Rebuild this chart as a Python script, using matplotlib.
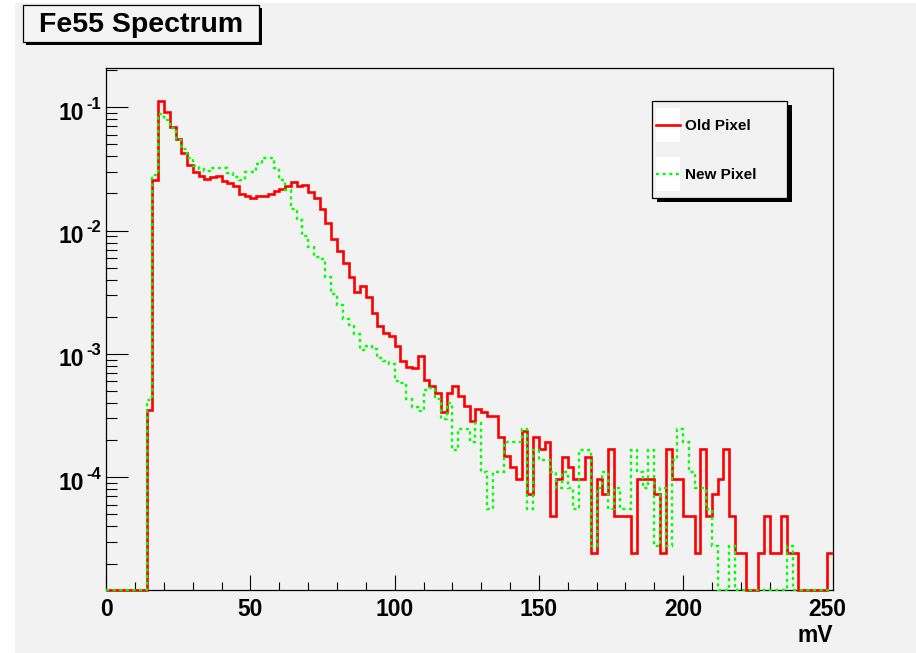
import numpy as np
import matplotlib
matplotlib.use("Agg")
import matplotlib.pyplot as plt
from matplotlib.patches import Rectangle
from matplotlib.lines import Line2D
from matplotlib.ticker import FixedLocator, LogLocator, FuncFormatter, NullFormatter

plt.rcParams["font.family"] = ["Liberation Sans", "DejaVu Sans"]
plt.rcParams["font.weight"] = "bold"

# ---- histogram data: normalised spectra, 2 mV bins from 0 mV ----
bin_width = 2.0
x_max = 252.0
x_ticks = [0, 50, 100, 150, 200, 250]
y_decades = [-4, -3, -2, -1]

old_pixel = [
    0, 0, 0, 0, 0, 0, 0, 3.5e-4, 0.0259, 0.113,
    0.0916, 0.0689, 0.0553, 0.0423, 0.0339, 0.0299, 0.0279, 0.0262, 0.0271, 0.0276,
    0.0254, 0.0244, 0.0229, 0.0198, 0.0190, 0.0184, 0.0192, 0.0190, 0.0198, 0.0211,
    0.0219, 0.0232, 0.0247, 0.0228, 0.0233, 0.0205, 0.0183, 0.0149, 0.0116, 0.00857,
    0.00689, 0.00544, 0.00424, 0.00315, 0.00356, 0.00292, 0.00214, 0.00170, 0.00147, 0.00141,
    0.00116, 8.79e-4, 7.91e-4, 7.76e-4, 9.71e-4, 6.17e-4, 5.45e-4, 4.81e-4, 3.37e-4, 4.81e-4,
    5.45e-4, 4.52e-4, 3.81e-4, 2.88e-4, 3.56e-4, 3.37e-4, 3.15e-4, 3.15e-4, 2.14e-4, 1.48e-4,
    1.21e-4, 9.7e-5, 2.39e-4, 7.3e-5, 2.14e-4, 1.69e-4, 1.93e-4, 4.9e-5, 9.7e-5, 1.46e-4,
    1.21e-4, 9.7e-5, 9.7e-5, 1.46e-4, 2.43e-5, 9.7e-5, 7.3e-5, 1.70e-4, 4.9e-5, 4.9e-5,
    4.9e-5, 2.43e-5, 9.7e-5, 9.7e-5, 9.7e-5, 7.3e-5, 2.43e-5, 1.70e-4, 9.7e-5, 9.7e-5,
    4.9e-5, 4.9e-5, 2.43e-5, 1.70e-4, 4.9e-5, 7.3e-5, 9.7e-5, 1.70e-4, 4.9e-5, 2.43e-5,
    2.43e-5, 0, 0, 2.43e-5, 4.9e-5, 2.43e-5, 2.43e-5, 4.9e-5, 2.43e-5, 2.43e-5,
    0, 0, 0, 0, 0, 2.43e-5,
]

new_pixel = [
    0, 0, 0, 0, 0, 0, 0, 4.2e-4, 0.0282, 0.0882,
    0.0789, 0.0676, 0.0543, 0.0457, 0.0386, 0.0334, 0.0315, 0.0306, 0.0324, 0.0321,
    0.0321, 0.0295, 0.0274, 0.0258, 0.0297, 0.0301, 0.0345, 0.0386, 0.0386, 0.0321,
    0.0258, 0.0214, 0.0150, 0.0122, 0.00906, 0.00733, 0.00615, 0.00586, 0.00419, 0.00307,
    0.00250, 0.00191, 0.00172, 0.00146, 0.00107, 0.00115, 0.00109, 9.24e-4, 8.79e-4, 8.26e-4,
    6.08e-4, 5.86e-4, 4.30e-4, 3.75e-4, 3.48e-4, 5.12e-4, 5.28e-4, 4.30e-4, 2.97e-4, 3.99e-4,
    1.65e-4, 2.48e-4, 2.48e-4, 1.93e-4, 2.75e-4, 1.10e-4, 5.5e-5, 1.10e-4, 1.10e-4, 1.93e-4,
    1.93e-4, 1.93e-4, 2.48e-4, 5.5e-5, 1.65e-4, 1.38e-4, 1.38e-4, 1.10e-4, 8.25e-5, 1.10e-4,
    8.25e-5, 5.5e-5, 1.65e-4, 1.65e-4, 2.75e-5, 8.25e-5, 1.10e-4, 5.5e-5, 8.25e-5, 5.5e-5,
    5.5e-5, 1.65e-4, 1.10e-4, 8.25e-5, 1.65e-4, 2.75e-5, 8.25e-5, 2.75e-5, 1.38e-4, 2.48e-4,
    1.93e-4, 1.10e-4, 8.25e-5, 8.25e-5, 5.5e-5, 2.75e-5, 0, 0, 2.75e-5, 0,
    0, 0, 0, 0, 0, 0, 0, 0, 2.75e-5, 0,
    0, 0, 0, 0, 0, 0,
]

y_floor = 1.22e-5
y_ceiling = 0.207

# ---- canvas geometry (pixels) ----
W, H = 916, 653
CANVAS = "#f2f2f2"


def fx(px):
    return px / W


def fy(py):
    return 1.0 - py / H


fig = plt.figure(figsize=(W / 100, H / 100), dpi=100, facecolor="white")
fig.patches.append(Rectangle((fx(15), 0), 1 - fx(15), fy(3), transform=fig.transFigure,
                             facecolor=CANVAS, edgecolor="none", zorder=-10))

ax_l, ax_r, ax_t, ax_b = 106.3, 833.0, 68.3, 590.0
ax = fig.add_axes([fx(ax_l), fy(ax_b), fx(ax_r - ax_l), (ax_b - ax_t) / H])
ax.set_facecolor(CANVAS)
ax.set_yscale("log")
ax.set_xlim(0, x_max)
ax.set_ylim(y_floor, y_ceiling)

edges = np.arange(len(old_pixel) + 1) * bin_width


def on_floor(values):
    v = np.asarray(values, dtype=float)
    return np.where(v > 0, v, y_floor)


ax.stairs(on_floor(old_pixel), edges, baseline=None, color="#ff0000", lw=1.9,
          clip_on=False, zorder=3)
ax.stairs(on_floor(new_pixel), edges, baseline=None, color="#00ff00", lw=1.7,
          ls=(0, (1.3, 1.5)), clip_on=False, zorder=4)

for s in ax.spines.values():
    s.set_linewidth(0.9)
    s.set_color("black")

# x axis ticks
ax.xaxis.set_major_locator(FixedLocator(x_ticks))
ax.xaxis.set_minor_locator(FixedLocator(np.arange(0, x_max + 1, 10)))
ax.tick_params(axis="x", which="major", direction="in", length=10.8, width=0.8,
               labelsize=16.5, pad=6, top=False)
ax.tick_params(axis="x", which="minor", direction="in", length=5.5, width=0.8, top=False)
ax.xaxis.set_major_formatter(FuncFormatter(lambda v, _: "%d" % v))
for lab in ax.get_xticklabels():
    lab.set_fontweight("bold")

# y axis ticks; decade labels written as "10" with a raised exponent
ax.yaxis.set_major_locator(LogLocator(base=10, numticks=20))
ax.yaxis.set_minor_locator(LogLocator(base=10, subs=np.arange(2, 10), numticks=20))
ax.yaxis.set_major_formatter(NullFormatter())
ax.yaxis.set_minor_formatter(NullFormatter())
ax.tick_params(axis="y", which="major", direction="in", length=15.6, width=0.8, right=False)
ax.tick_params(axis="y", which="minor", direction="in", length=8.1, width=0.8, right=False)

y_lo, y_hi = np.log10(y_floor), np.log10(y_ceiling)
for d in y_decades:
    py = ax_b - (d - y_lo) / (y_hi - y_lo) * (ax_b - ax_t)
    fig.text(fx(84), fy(py + 6), "10", ha="right", va="center", fontsize=16.5,
             fontweight="bold")
    fig.text(fx(101), fy(py - 3), "%d" % d, ha="right", va="center", fontsize=12,
             fontweight="bold")

# axis title
fig.text(fx(ax_r), fy(642), "mV", ha="right", va="baseline", fontsize=16.5,
         fontweight="bold")

# title box with shadow
tb_l, tb_t, tb_r, tb_b = 23, 5, 259, 42
fig.patches.append(Rectangle((fx(tb_l + 2.5), fy(tb_b + 2.5)), fx(tb_r - tb_l), (tb_b - tb_t) / H,
                             transform=fig.transFigure, facecolor="black",
                             edgecolor="none", zorder=1))
fig.patches.append(Rectangle((fx(tb_l), fy(tb_b)), fx(tb_r - tb_l), (tb_b - tb_t) / H,
                             transform=fig.transFigure, facecolor="#f4f4f4",
                             edgecolor="black", lw=0.9, zorder=2))
fig.text(fx(141.5), fy(25), "Fe55 Spectrum", ha="center", va="center", fontsize=20.5,
         fontweight="bold", zorder=3)

# legend box with shadow
lg_l, lg_t, lg_r, lg_b = 652, 101, 787, 198
fig.patches.append(Rectangle((fx(lg_l + 4.5), fy(lg_b + 4)), fx(lg_r - lg_l), (lg_b - lg_t) / H,
                             transform=fig.transFigure, facecolor="black",
                             edgecolor="none", zorder=5))
fig.patches.append(Rectangle((fx(lg_l), fy(lg_b)), fx(lg_r - lg_l), (lg_b - lg_t) / H,
                             transform=fig.transFigure, facecolor=CANVAS,
                             edgecolor="black", lw=0.9, zorder=6))
legend_rows = [("Old Pixel", "#ff0000", "-", 1.9, 125),
               ("New Pixel", "#00ff00", (0, (1.3, 1.5)), 1.7, 174)]
for label, color, style, width, yc in legend_rows:
    fig.patches.append(Rectangle((fx(656), fy(yc + 17)), fx(24), 34 / H,
                                 transform=fig.transFigure, facecolor="white",
                                 edgecolor="none", zorder=7))
    fig.lines.append(Line2D([fx(656), fx(680)], [fy(yc), fy(yc)], transform=fig.transFigure,
                            color=color, lw=width, ls=style, zorder=8))
    fig.text(fx(685), fy(yc + 1), label, ha="left", va="center", fontsize=11,
             fontweight="bold", zorder=8)

fig.savefig("out.png", dpi=100, facecolor=fig.get_facecolor())
